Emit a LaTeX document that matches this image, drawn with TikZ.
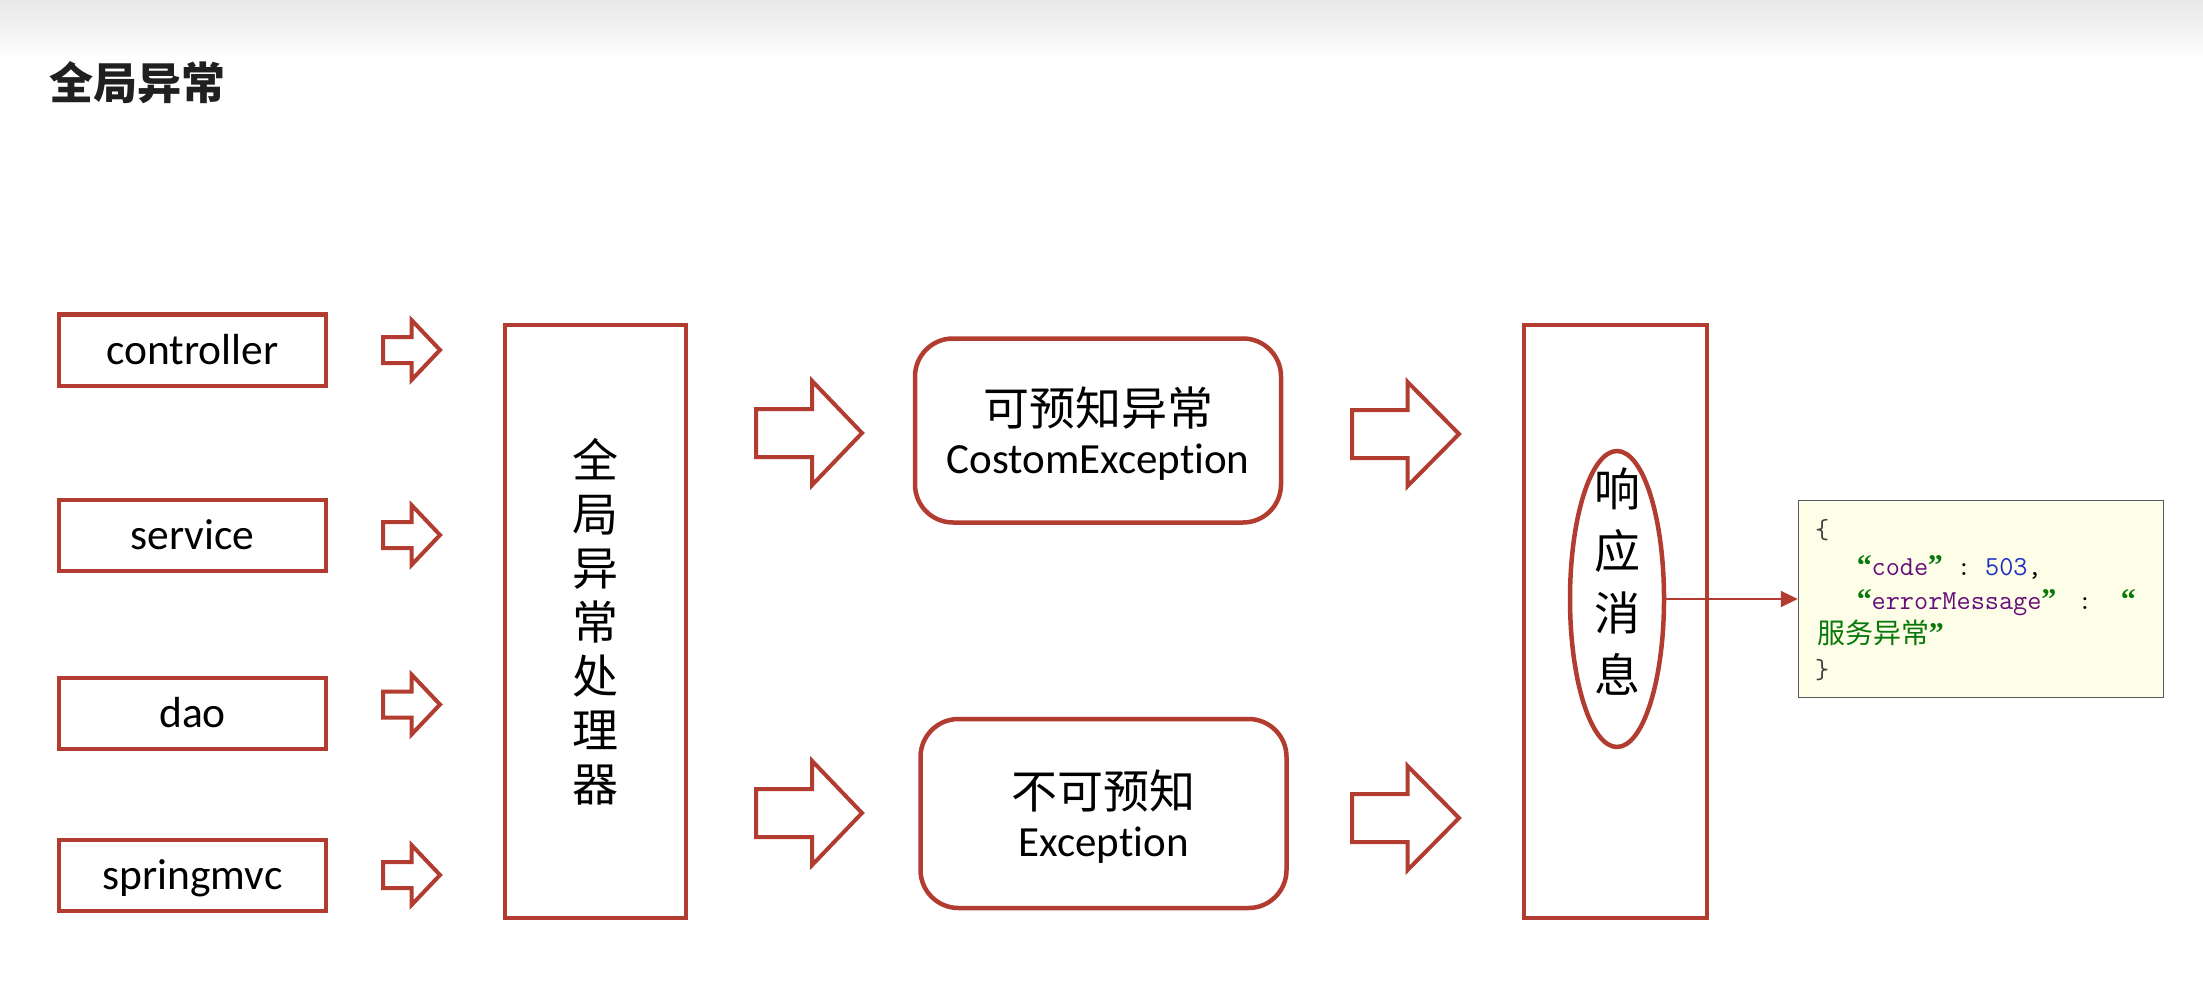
\documentclass[tikz,border=0pt]{standalone}
\usepackage{fontspec}
\setmainfont{Carlito}[Ligatures={NoCommon}]
\newfontfamily\cjk{Noto Sans CJK SC}
\newfontfamily\qfont{Liberation Serif}
\usetikzlibrary{shapes.geometric,arrows.meta}
\definecolor{brick}{RGB}{178,60,48}
\definecolor{jsonbg}{RGB}{253,253,232}
\definecolor{jsonframe}{RGB}{90,90,90}
\definecolor{jkey}{RGB}{102,14,122}
\definecolor{jnum}{RGB}{30,50,190}
\definecolor{jstr}{RGB}{10,120,10}
\definecolor{titlec}{RGB}{32,32,32}
\newcommand\jq[1]{\makebox[14.4pt]{\qfont\bfseries\fontsize{30}{35}\selectfont\color{jstr}#1}}
\newcommand\blockarrow[6]{% x left, y centre, length, height, shaft, head fraction
  \pgfmathsetmacro\baXa{#1}%
  \pgfmathsetmacro\baXh{#1+#3*#6}%
  \pgfmathsetmacro\baXt{#1+#3}%
  \pgfmathsetmacro\baYs{#5/2}%
  \pgfmathsetmacro\baYh{#4/2}%
  \draw[barrow] (\baXa,#2-\baYs) -- (\baXh,#2-\baYs) -- (\baXh,#2-\baYh) -- (\baXt,#2)
    -- (\baXh,#2+\baYh) -- (\baXh,#2+\baYs) -- (\baXa,#2+\baYs) -- cycle;}
\begin{document}
\begin{tikzpicture}[x=1pt,y=-1pt,
  srcbox/.style={draw=brick, line width=4pt, minimum width=267pt, minimum height=71pt,
    inner sep=0pt, font=\fontsize{43.5}{50}\selectfont, text height=36pt, text depth=8pt},
  tallbox/.style={draw=brick, line width=4pt, minimum width=181pt, minimum height=593pt, inner sep=0pt},
  roundbox/.style={draw=brick, line width=4.5pt, rounded corners=38pt, minimum width=366pt,
    minimum height=184pt, inner sep=0pt},
  barrow/.style={draw=brick, line width=4pt, fill=white, line join=miter},
  cjktext/.style={font=\cjk\fontsize{46}{54}\selectfont, inner sep=0pt},
  lattext/.style={font=\fontsize{43}{50}\selectfont, inner sep=0pt},
  jline/.style={anchor=base west, inner sep=0pt, font=\ttfamily\fontsize{27.5}{35}\selectfont},
  conn/.style={draw=brick, line width=2pt, -{Triangle[length=17pt,width=16pt]}}]
\useasboundingbox (0,0) rectangle (2203,992);
\fill[white] (0,0) rectangle (2203,992);
\shade[top color={rgb,255:red,232;green,232;blue,232}, bottom color={rgb,255:red,252;green,252;blue,252}] (0,0) rectangle (2203,55);

% title
\node[anchor=west, inner sep=0pt, text=titlec, font=\cjk\bfseries\fontsize{44}{50}\selectfont] (title) at (49,83) {全局异常};

% sources
\node[srcbox] (ctrl) at (192.5,350) {controller};
\node[srcbox] (svc) at (192.5,535.5) {service};
\node[srcbox] (dao) at (192.5,713) {dao};
\node[srcbox] (mvc) at (192.5,875.5) {springmvc};

% small block arrows
\blockarrow{383}{350}{57}{60}{26}{0.5}
\blockarrow{383}{535}{57}{60}{26}{0.5}
\blockarrow{383}{704.5}{57}{60}{26}{0.5}
\blockarrow{383}{875}{57}{60}{26}{0.5}

% global handler
\node[tallbox, align=center, font=\cjk\fontsize{46}{54}\selectfont] (handler) at (595.5,621.5)
  {全\\局\\异\\常\\处\\理\\器};

% big arrows to exception kinds
\blockarrow{756}{433}{106}{104}{48}{0.53}
\blockarrow{756}{813}{106}{104}{48}{0.53}

% exception kinds
\node[roundbox] (known) at (1098,430.5) {};
\node[cjktext, anchor=base] (knowncn) at ([yshift=5pt]known.center) {可预知异常};
\node[lattext, anchor=base] (knownen) at ([yshift=-43pt]known.center) {CostomException};

\node[roundbox, minimum height=189pt] (unknown) at (1103.5,813.5) {};
\node[cjktext, anchor=base] (unknowncn) at ([yshift=5pt]unknown.center) {不可预知};
\node[lattext, anchor=base] (unknownen) at ([yshift=-43pt]unknown.center) {Exception};

% big arrows to response
\blockarrow{1352}{434}{107}{104}{48}{0.52}
\blockarrow{1352}{818}{107}{104}{48}{0.52}

% response
\node[tallbox, minimum width=183pt] (respbox) at (1615.5,621.5) {};
\node[ellipse, draw=brick, line width=4.5pt, minimum width=94pt, minimum height=296pt, inner sep=0pt] (resp) at (1617,599) {};
\node[align=center, font=\cjk\fontsize{46}{62}\selectfont, inner sep=0pt] (resptext) at (1617,582) {响\\应\\消\\息};

% json
\node[draw=jsonframe, fill=jsonbg, line width=1.5pt, minimum width=365pt, minimum height=197pt, inner sep=0pt] (json) at (1981,599) {};
\draw[conn] (resp.east) -- (json.west);

\node[jline, text=black!75] (j1) at (1815,538) {\{};
\node[jline] (j2) at (1857,575) {\jq{“}\textcolor{jkey}{code}\jq{”}\ :\ \textcolor{jnum}{503},};
\node[jline] (j3) at (1857,609) {\jq{“}\textcolor{jkey}{errorMessage}\jq{”}\hspace{22pt}:\hspace{29pt}\jq{“}};
\node[jline, text=jstr] (j4) at (1817,643) {{\cjk\fontsize{28}{35}\selectfont 服务异常}\jq{”}};
\node[jline, text=black!75] (j5) at (1815,678) {\}};
\end{tikzpicture}
\end{document}
